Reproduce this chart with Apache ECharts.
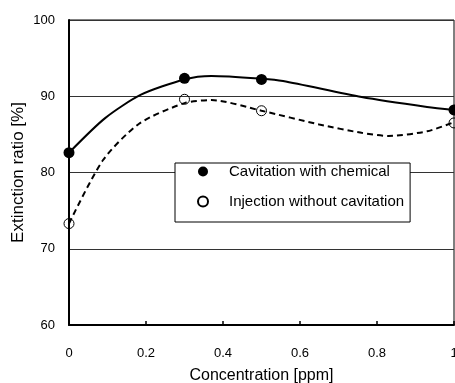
<!DOCTYPE html>
<html>
<head>
<meta charset="utf-8">
<script src="https://cdn.jsdelivr.net/npm/echarts@6/dist/echarts.min.js"></script>
<style>
  html, body { margin: 0; padding: 0; background: #fff; }
  #main { width: 455px; height: 383px; }
</style>
</head>
<body>
<div id="main"></div>
<script>
// marker points
var concPoints = [0, 0.3, 0.5, 1];
var withChemical = [82.6, 92.35, 92.2, 88.2];
var withoutCavitation = [73.3, 89.6, 88.1, 86.5];

// smoothed curve points
var curveXChem = [0, 0.093, 0.187, 0.3, 0.37, 0.5, 0.556, 0.76, 0.93, 1];
var curveYChem = [82.6, 87.1, 90.2, 92.2, 92.65, 92.3, 92.0, 89.9, 88.6, 88.2];
var curveXInj = [0, 0.088, 0.182, 0.3, 0.37, 0.5, 0.65, 0.76, 0.83, 0.93, 1];
var curveYInj = [73.3, 81.6, 86.4, 89.1, 89.5, 88.1, 86.3, 85.2, 84.8, 85.4, 86.6];

var xTicks = [0, 0.2, 0.4, 0.6, 0.8, 1];
var yTicks = [60, 70, 80, 90, 100];

function zip(xs, ys) {
  return xs.map(function (x, i) { return [x, ys[i]]; });
}

var font = 'Arial, "Liberation Sans", sans-serif';
var myChart = echarts.init(document.getElementById('main'));
var option = {
  animation: false,
  grid: {
    left: 69, top: 20, right: 1, bottom: 58,
    outerBoundsMode: 'none',
    show: true, borderColor: '#000', borderWidth: 1
  },
  legend: {
    orient: 'vertical',
    left: 175, top: 163,
    padding: [1, 6, 13, 22],
    itemGap: 15,
    itemWidth: 10, itemHeight: 10,
    backgroundColor: '#fff',
    borderColor: '#000', borderWidth: 1,
    textStyle: { fontFamily: font, fontSize: 15, lineHeight: 14, color: '#000', padding: [0, 0, 0, 16] },
    data: ['Cavitation with chemical', 'Injection without cavitation']
  },
  xAxis: {
    type: 'value',
    min: xTicks[0], max: xTicks[xTicks.length - 1], interval: 0.2,
    name: 'Concentration [ppm]',
    nameLocation: 'middle', nameGap: 43, nameMoveOverlap: false,
    nameTextStyle: { fontFamily: font, fontSize: 16, color: '#000' },
    axisLine: { lineStyle: { color: '#000', width: 2 } },
    axisTick: { inside: true, length: 4, lineStyle: { color: '#000', width: 1.5 } },
    axisLabel: { fontFamily: font, fontSize: 13, color: '#000', margin: 22 },
    splitLine: { show: false }
  },
  yAxis: {
    type: 'value',
    min: yTicks[0], max: yTicks[yTicks.length - 1], interval: 10,
    name: 'Extinction ratio [%]',
    nameLocation: 'middle', nameGap: 42, nameMoveOverlap: false,
    nameTextStyle: { fontFamily: font, fontSize: 17, color: '#000' },
    axisLine: { show: true, lineStyle: { color: '#000', width: 2 } },
    axisTick: { show: false },
    axisLabel: { fontFamily: font, fontSize: 13, color: '#000', margin: 14 },
    splitLine: { show: true, lineStyle: { color: '#333', width: 1 } }
  },
  series: [
    {
      name: 'curveChem', type: 'line', smooth: 0.25,
      data: zip(curveXChem, curveYChem),
      showSymbol: false, silent: true,
      lineStyle: { color: '#000', width: 2 }
    },
    {
      name: 'curveInj', type: 'line', smooth: 0.25,
      data: zip(curveXInj, curveYInj),
      showSymbol: false, silent: true,
      lineStyle: { color: '#000', width: 2, type: [6, 4] }
    },
    {
      name: 'Cavitation with chemical', type: 'scatter',
      data: zip(concPoints, withChemical),
      symbol: 'circle', symbolSize: 11, z: 5,
      itemStyle: { color: '#000', opacity: 1 }
    },
    {
      name: 'Injection without cavitation', type: 'scatter',
      data: zip(concPoints, withoutCavitation),
      symbol: 'circle', symbolSize: 10, z: 5,
      itemStyle: { color: 'rgba(255,255,255,0)', borderColor: '#000', borderWidth: 1, opacity: 1 }
    }
  ]
};
myChart.setOption(option);
</script>
</body>
</html>
